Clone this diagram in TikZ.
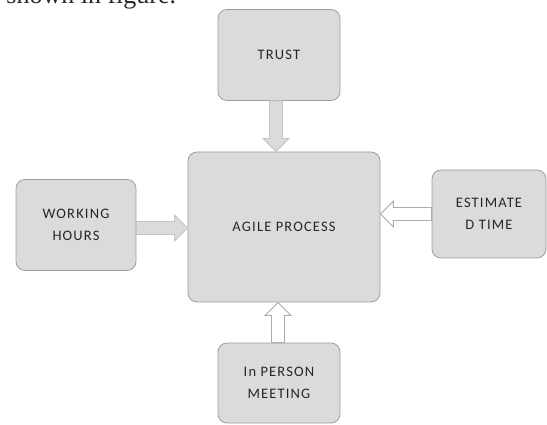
\documentclass[tikz,border=0pt]{standalone}
\usepackage{fontspec}
\setmainfont{Liberation Serif}
\newfontfamily\boxfont{Carlito}[LetterSpace=8]
\usetikzlibrary{calc}
\begin{document}
\begin{tikzpicture}[x=1pt,y=-1pt,thick,
    main node/.style={draw=gray!75,fill=gray!28,rounded corners=9pt,align=center,
      font=\boxfont\fontsize{14.5}{22}\selectfont,text=black!85},
    block/.style={line width=0.9pt,to path={let \p1=(\tikztostart), \p2=(\tikztotarget),
      \n1={atan2(\y2-\y1,\x2-\x1)} in
      ($(\p1)+(\n1+90:6.5pt)$) -- ($(\p2)+(\n1+180:13pt)+(\n1+90:6.5pt)$)
      -- ($(\p2)+(\n1+180:13pt)+(\n1+90:13pt)$) -- (\p2)
      -- ($(\p2)+(\n1+180:13pt)+(\n1-90:13pt)$) -- ($(\p2)+(\n1+180:13pt)+(\n1-90:6.5pt)$)
      -- ($(\p1)+(\n1-90:6.5pt)$) -- cycle}},
    fat arrow/.style={block,draw=gray!45,fill=gray!28},
    hollow arrow/.style={block,draw=gray!65,fill=white}]
    \clip (0,0) rectangle (547,425);
    \useasboundingbox (0,0) rectangle (547,425);
            \node[anchor=base west,inner sep=0pt,font=\fontsize{26}{26}\selectfont,text=black!85] (0) at (6,3.5) {shown in figure.};
            \node[main node,minimum width=192pt,minimum height=150pt] (1) at (284,227) {AGILE PROCESS};
            \node[main node,minimum width=122pt,minimum height=91pt] (2) at (279,55) {TRUST};
            \node[main node,minimum width=120pt,minimum height=91pt] (3) at (76,225) {WORKING\\HOURS};
            \node[main node,minimum width=114pt,minimum height=88pt] (4) at (489,214) {ESTIMATE\\D TIME};
            \node[main node,minimum width=122pt,minimum height=80pt] (5) at (279,383) {In PERSON\\MEETING};
            \draw[fat arrow] (2.south -| 276,0) to (1.north -| 276,0);
            \draw[fat arrow] (3.east |- 0,228) to (1.west |- 0,228);
            \draw[hollow arrow] (4.west |- 0,214) to (1.east |- 0,214);
            \draw[hollow arrow] (5.north -| 278,0) to (1.south -| 278,0);
        \end{tikzpicture}
\end{document}
